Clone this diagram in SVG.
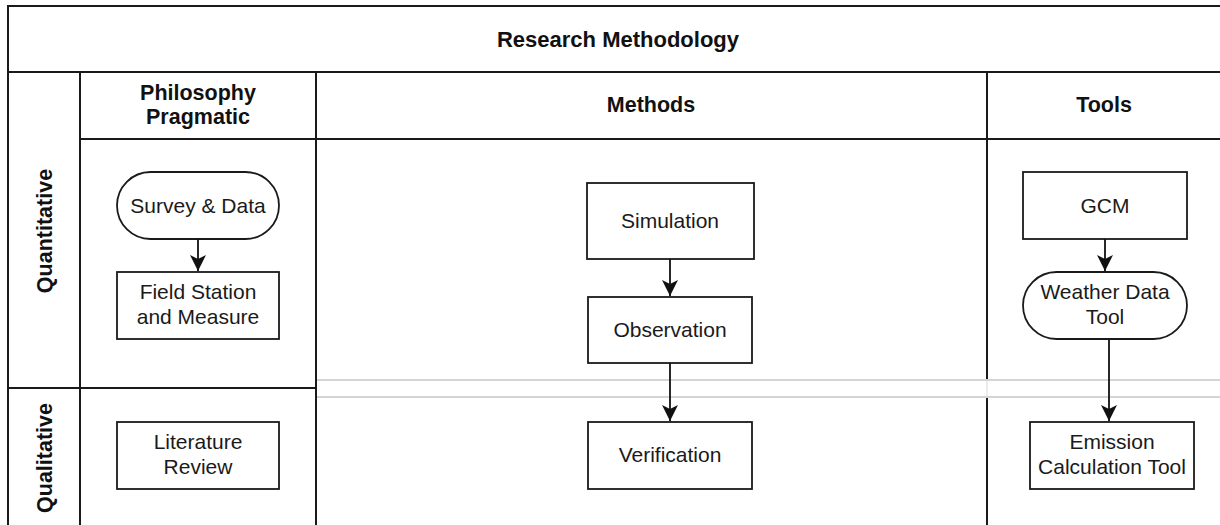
<svg xmlns="http://www.w3.org/2000/svg" width="1220" height="525" viewBox="0 0 1220 525">
<style>
.frame{fill:none;stroke:#1a1a1a;stroke-width:2}
.node{fill:#fff;stroke:#1a1a1a;stroke-width:1.8}
.t{font-family:"Liberation Sans",Arial,sans-serif;font-size:21px;fill:#1a1a1a;text-anchor:middle}
.h{font-family:"Liberation Sans",Arial,sans-serif;font-size:21.5px;font-weight:bold;fill:#111;text-anchor:middle}
.edge{fill:none;stroke:#111;stroke-width:1.8}
.gray{stroke:#d4d4d4;stroke-width:2}
</style>
<defs>
<marker id="arr" viewBox="0 0 16 16" refX="16" refY="8" markerWidth="16" markerHeight="16" markerUnits="userSpaceOnUse" orient="auto">
<path d="M0,0 L16,8 L0,16 L4,8 Z" fill="#111"/>
</marker>
</defs>
<rect x="0" y="0" width="1220" height="525" fill="#fff"/>
<g id="pool">
<rect class="frame" x="8" y="6" width="1213" height="530"/>
<line class="frame" x1="8" y1="72" x2="1221" y2="72"/>
<line class="frame" x1="80" y1="72" x2="80" y2="525"/>
<line class="frame" x1="987" y1="72" x2="987" y2="525"/>
<line class="frame" x1="80" y1="139" x2="1221" y2="139"/>
<line class="frame" x1="8" y1="388" x2="316" y2="388"/>
<rect x="317" y="380" width="905" height="17" fill="#fff"/>
<line x1="987" y1="381" x2="987" y2="396" stroke="#e6e6e6" stroke-width="1.5"/>
<line class="gray" x1="317" y1="380" x2="1221" y2="380"/>
<line class="gray" x1="317" y1="397" x2="1221" y2="397"/>
<line class="frame" x1="316" y1="72" x2="316" y2="525"/>
<text class="h" x="618" y="47" style="font-size:22px">Research Methodology</text>
<text class="h" x="198" y="100">Philosophy</text>
<text class="h" x="198" y="124">Pragmatic</text>
<text class="h" x="651" y="112">Methods</text>
<text class="h" x="1104" y="112">Tools</text>
<text class="h" transform="translate(52,231) rotate(-90)">Quantitative</text>
<text class="h" transform="translate(52,458) rotate(-90)">Qualitative</text>
</g>
<g id="survey">
<rect class="node" x="117" y="172" width="162" height="67" rx="33.5" ry="33.5"/>
<text class="t" x="198" y="213">Survey &amp; Data</text>
</g>
<g id="field">
<rect class="node" x="117" y="272" width="162" height="67"/>
<text class="t" x="198" y="299">Field Station</text>
<text class="t" x="198" y="324">and Measure</text>
</g>
<g id="literature">
<rect class="node" x="117" y="422" width="162" height="67"/>
<text class="t" x="198" y="449">Literature</text>
<text class="t" x="198" y="474">Review</text>
</g>
<g id="simulation">
<rect class="node" x="587" y="183" width="167" height="76"/>
<text class="t" x="670" y="228">Simulation</text>
</g>
<g id="observation">
<rect class="node" x="588" y="297" width="164" height="66"/>
<text class="t" x="670" y="337">Observation</text>
</g>
<g id="verification">
<rect class="node" x="588" y="422" width="164" height="67"/>
<text class="t" x="670" y="462">Verification</text>
</g>
<g id="gcm">
<rect class="node" x="1023" y="172" width="164" height="67"/>
<text class="t" x="1105" y="213">GCM</text>
</g>
<g id="weather">
<rect class="node" x="1023" y="272" width="164" height="67" rx="33.5" ry="33.5"/>
<text class="t" x="1105" y="299">Weather Data</text>
<text class="t" x="1105" y="324">Tool</text>
</g>
<g id="emission">
<rect class="node" x="1030" y="422" width="164" height="67"/>
<text class="t" x="1112" y="449">Emission</text>
<text class="t" x="1112" y="474">Calculation Tool</text>
</g>
<g id="connectors">
<line class="edge" x1="198" y1="239" x2="198" y2="271" marker-end="url(#arr)"/>
<line class="edge" x1="670" y1="259" x2="670" y2="296" marker-end="url(#arr)"/>
<line class="edge" x1="670" y1="363" x2="670" y2="421" marker-end="url(#arr)"/>
<line class="edge" x1="1105" y1="239" x2="1105" y2="271" marker-end="url(#arr)"/>
<line class="edge" x1="1109" y1="339" x2="1109" y2="421" marker-end="url(#arr)"/>
</g>
</svg>
